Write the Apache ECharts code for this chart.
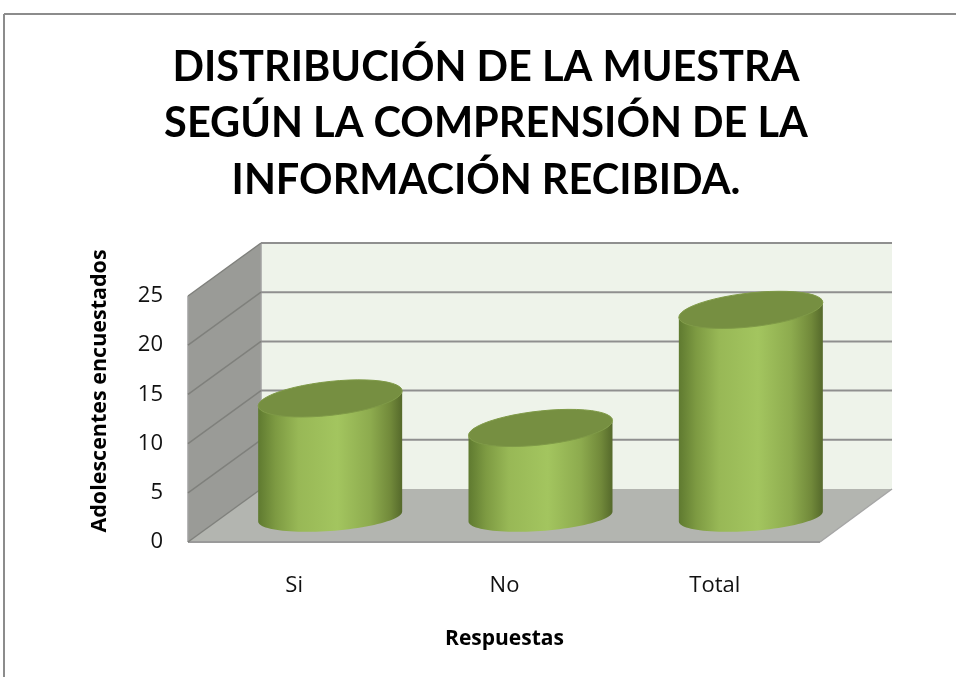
<!DOCTYPE html>
<html>
<head>
<meta charset="utf-8">
<title>Distribución de la muestra</title>
<script src="https://cdn.jsdelivr.net/npm/echarts@6/dist/echarts.min.js"></script>
<style>
  html, body { margin: 0; padding: 0; background: #fff; }
  #chart { width: 956px; height: 677px; }
</style>
</head>
<body>
<div id="chart"></div>
<script>
// datos
const categorias = ['Si', 'No', 'Total'];
const valores = [12, 9, 21];
const yTicks = [0, 5, 10, 15, 20, 25];
const titulo = 'DISTRIBUCIÓN DE LA MUESTRA\nSEGÚN LA COMPRENSIÓN DE LA\nINFORMACIÓN RECIBIDA.';

// profundidad del falso 3D
const fondoX = 72;
const fondoY = -53;
const radioX = 72;

const fuente = 'Lato';
const fuenteEjes = 'Open Sans';
const myChart = echarts.init(document.getElementById('chart'));

function line(x1, y1, x2, y2, color, width) {
  return {
    type: 'line',
    shape: { x1, y1, x2, y2 },
    style: { stroke: color, lineWidth: width }
  };
}

// paredes, suelo y lineas de division
function renderWalls(params, api) {
  const g = params.coordSys;
  const v = api.value(1);
  const y = api.coord([0, v])[1];
  const left = g.x, right = g.x + g.width;
  const children = [];
  if (params.dataIndex === 0) {
    const top = g.y, bottom = g.y + g.height;
    children.push({
      type: 'polygon',
      shape: { points: [[left + fondoX, top + fondoY], [right + fondoX, top + fondoY], [right + fondoX, bottom + fondoY], [left + fondoX, bottom + fondoY]] },
      style: { fill: '#eef3ea' }
    }, {
      type: 'polygon',
      shape: { points: [[left - 1, top], [left + fondoX, top + fondoY], [left + fondoX, bottom + fondoY], [left - 1, bottom]] },
      style: { fill: '#9a9b97' }
    }, {
      type: 'polygon',
      shape: { points: [[left - 1, bottom], [right, bottom], [right + fondoX, bottom + fondoY], [left + fondoX, bottom + fondoY]] },
      style: { fill: '#b3b5b0' }
    });
    children.push(line(left - 1, bottom, right, bottom, '#9a9a9a', 2));
    children.push(line(right, bottom, right + fondoX, bottom + fondoY, '#a6a6a6', 1.5));
    children.push(line(left - 1, top, left - 1, bottom, '#a0a0a0', 1.5));
    children.push(line(left + fondoX, top + fondoY, left + fondoX, bottom + fondoY, '#a0a0a0', 1.5));
  }
  children.push(line(left - 1, y, left + fondoX, y + fondoY, '#7f807c', 1.5));
  if (v > 0) {
    children.push(line(left + fondoX, y + fondoY, right + fondoX, y + fondoY, '#8f8f8f', 2));
  }
  return { type: 'group', children };
}

function elipse(cx, cy, a, b, sesgo, desde, hasta) {
  const pts = [];
  for (let i = 0; i <= 48; i++) {
    const t = desde + (hasta - desde) * i / 48;
    pts.push([cx + a * Math.cos(t), cy - sesgo * Math.cos(t) + b * Math.sin(t)]);
  }
  return pts;
}

// cilindros
function renderCylinder(params, api) {
  const tope = api.coord([api.value(0), api.value(1)]);
  const base = api.coord([api.value(0), 0]);
  const cx = tope[0] + fondoX / 2;
  const yTop = tope[1] + fondoY / 2 + 1;
  const yBase = base[1] + fondoY / 2 + 1;
  // parte frontal: por abajo de izquierda a derecha y de vuelta por la tapa
  const frente = elipse(cx, yBase, radioX, 14.5, 5, Math.PI, 0)
    .concat(elipse(cx, yTop, radioX, 16, 7.5, 0, Math.PI));
  return {
    type: 'group',
    children: [{
      type: 'polygon',
      shape: { points: frente },
      style: {
        fill: new echarts.graphic.LinearGradient(0, 0, 1, 0, [
          { offset: 0, color: '#5f7a30' },
          { offset: 0.12, color: '#7d9a42' },
          { offset: 0.28, color: '#98b856' },
          { offset: 0.55, color: '#a3c55f' },
          { offset: 0.78, color: '#8dab4e' },
          { offset: 0.92, color: '#71893a' },
          { offset: 1, color: '#55692b' }
        ])
      }
    }, {
      type: 'polygon',
      shape: { points: elipse(cx, yTop, radioX, 17, 7.5, 0, Math.PI * 2) },
      style: { fill: '#768f41', stroke: '#7f9a47', lineWidth: 1 }
    }]
  };
}

const option = {
  animation: false,
  backgroundColor: '#fff',
  title: {
    text: titulo,
    left: 481,
    top: 34,
    textAlign: 'center',
    textStyle: { fontFamily: fuente, fontSize: 41.5, fontWeight: 'bold', color: '#000', lineHeight: 56.5 }
  },
  grid: { left: 189, top: 296, width: 631, height: 246 },
  xAxis: {
    type: 'category',
    data: categorias,
    axisLine: { show: false },
    axisTick: { show: false },
    axisLabel: { margin: 33, fontFamily: fuenteEjes, fontSize: 22, color: '#111' },
    name: 'Respuestas',
    nameLocation: 'middle',
    nameGap: 87,
    nameTextStyle: { fontFamily: fuenteEjes, fontSize: 21, fontWeight: 'bold', color: '#000' }
  },
  yAxis: {
    type: 'value',
    min: 0,
    max: 25,
    interval: 5,
    axisLine: { show: false },
    axisTick: { show: false },
    splitLine: { show: false },
    axisLabel: { margin: 26, fontFamily: fuenteEjes, fontSize: 22, color: '#111', padding: [4, 0, 0, 0] },
    name: 'Adolescentes encuestados',
    nameLocation: 'middle',
    nameGap: 78,
    nameTextStyle: { fontFamily: fuenteEjes, fontSize: 21.5, fontWeight: 'bold', color: '#000', padding: [0, 0, 0, 56] }
  },
  graphic: [
    { type: 'line', shape: { x1: 4, y1: 14, x2: 956, y2: 14 }, style: { stroke: '#8c8c8c', lineWidth: 2 } },
    { type: 'line', shape: { x1: 4, y1: 14, x2: 4, y2: 677 }, style: { stroke: '#8c8c8c', lineWidth: 2 } }
  ],
  series: [
    {
      type: 'custom',
      silent: true,
      z: 1,
      renderItem: renderWalls,
      encode: { x: 0, y: 1 },
      data: yTicks.map(t => [0, t])
    },
    {
      type: 'custom',
      silent: true,
      z: 2,
      renderItem: renderCylinder,
      encode: { x: 0, y: 1 },
      data: valores.map((v, i) => [i, v])
    }
  ]
};

myChart.setOption(option);
</script>
</body>
</html>
